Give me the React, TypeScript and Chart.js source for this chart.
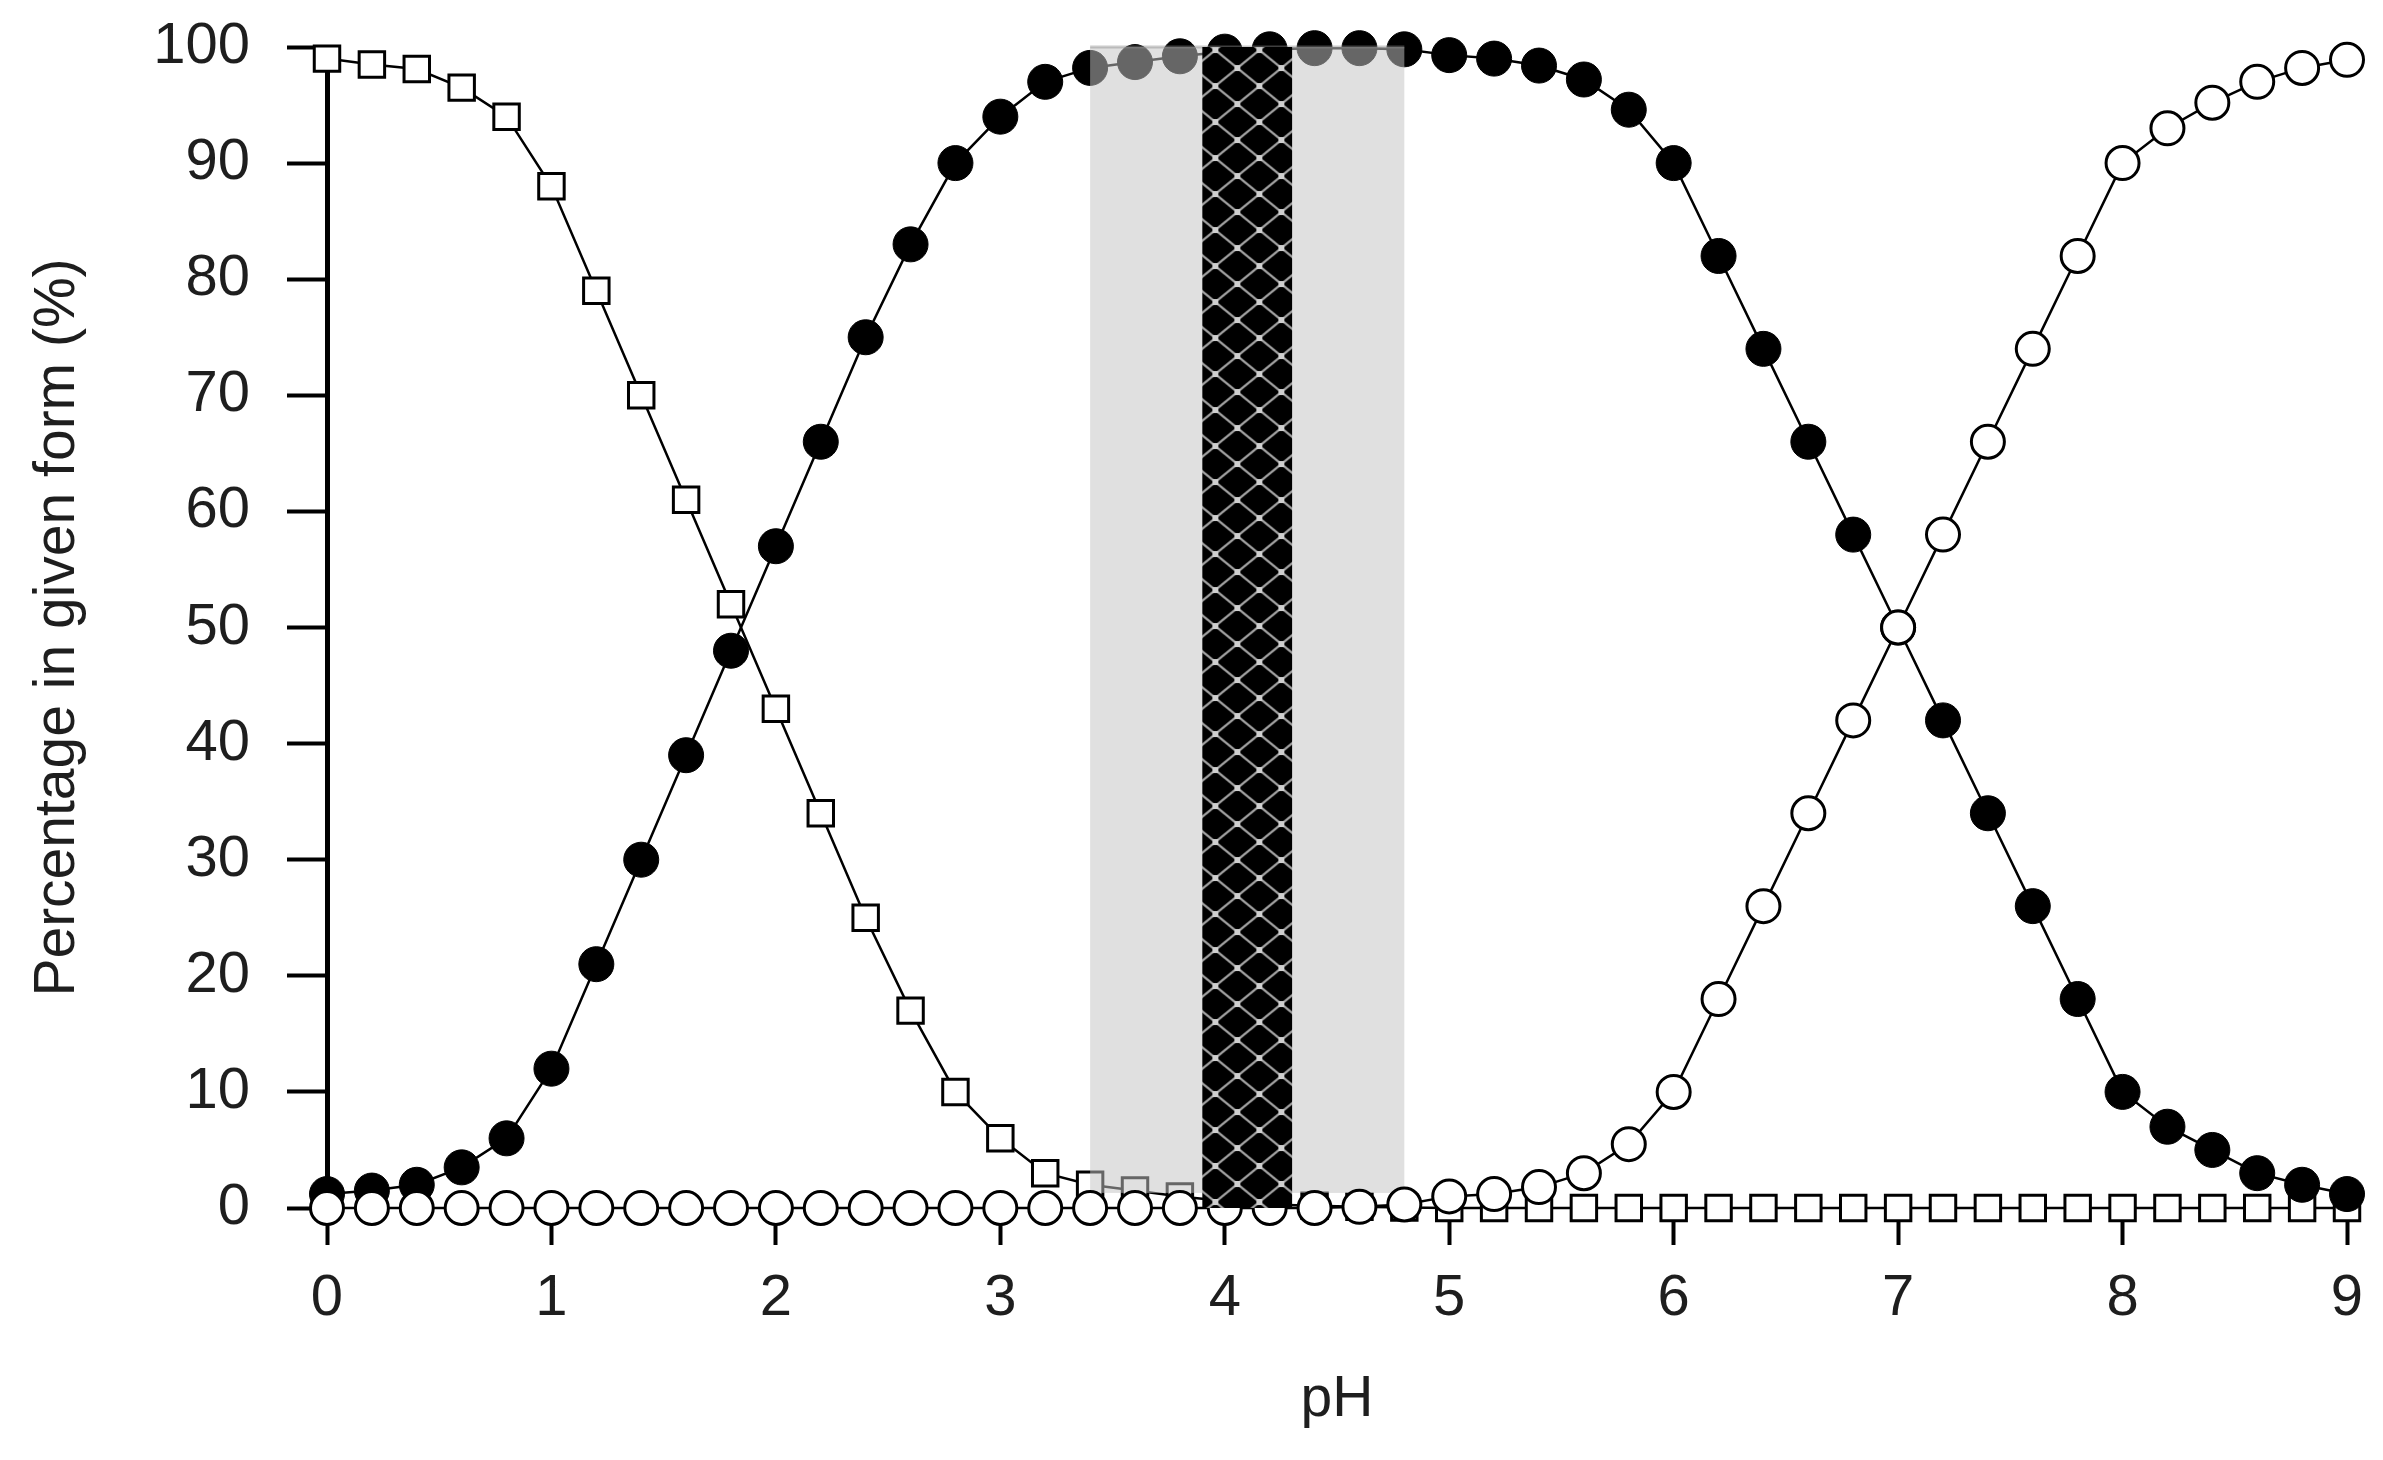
import React, { useEffect, useRef } from 'react';
import { Chart, registerables } from 'chart.js';

Chart.register(...registerables);

// pH values (x categories)
const pHValues = [
  0, 0.2, 0.4, 0.6, 0.8, 1.0, 1.2, 1.4, 1.6, 1.8,
  2.0, 2.2, 2.4, 2.6, 2.8, 3.0, 3.2, 3.4, 3.6, 3.8,
  4.0, 4.2, 4.4, 4.6, 4.8, 5.0, 5.2, 5.4, 5.6, 5.8,
  6.0, 6.2, 6.4, 6.6, 6.8, 7.0, 7.2, 7.4, 7.6, 7.8,
  8.0, 8.2, 8.4, 8.6, 8.8, 9.0,
];

// open squares (fully protonated form)
const squareValues = [
  99, 98.5, 98.1, 96.5, 94, 88, 79, 70, 61, 52,
  43, 34, 25, 17, 10, 6, 3, 2, 1.5, 1,
  0.6, 0.3, 0.2, 0.1, 0.05, 0, 0, 0, 0, 0,
  0, 0, 0, 0, 0, 0, 0, 0, 0, 0,
  0, 0, 0, 0, 0, 0,
];

// filled circles (intermediate form)
const filledValues = [
  1.2, 1.5, 2, 3.5, 6, 12, 21, 30, 39, 48,
  57, 66, 75, 83, 90, 94, 97, 98.2, 98.7, 99.2,
  99.6, 99.8, 99.9, 99.9, 99.8, 99.3, 99.0, 98.4, 97.2, 94.6,
  90, 82, 74, 66, 58, 50, 42, 34, 26, 18,
  10, 7, 5, 3, 2, 1.2,
];

// open circles (deprotonated form)
const openValues = [
  0, 0, 0, 0, 0, 0, 0, 0, 0, 0,
  0, 0, 0, 0, 0, 0, 0, 0, 0, 0,
  0, 0, 0, 0.1, 0.3, 1.0, 1.2, 1.8, 3.0, 5.5,
  10, 18, 26, 34, 42, 50, 58, 66, 74, 82,
  90, 93, 95.2, 97, 98.2, 98.9,
];

const xTickValues = [0, 1, 2, 3, 4, 5, 6, 7, 8, 9];
const yTickValues = [0, 10, 20, 30, 40, 50, 60, 70, 80, 90, 100];

// shaded regions: [xStart, xEnd], [yStart, yEnd]
const lightBandX = [3.4, 4.8];
const lightBandY = [1.3, 100];
const hatchBandX = [3.9, 4.3];
const hatchBandY = [0, 100];

const FONT = '"Liberation Sans", Arial, Helvetica, sans-serif';
const TEXT = '#1e1e1e';

function toPoints(values: number[]) {
  return pHValues.map((x, i) => ({ x, y: values[i] }));
}

function makeHatchPattern(ctx: CanvasRenderingContext2D) {
  const w = 44;
  const h = 36;
  const c = document.createElement('canvas');
  c.width = w;
  c.height = h;
  const g = c.getContext('2d') as CanvasRenderingContext2D;
  g.fillStyle = '#000';
  g.fillRect(0, 0, w, h);
  g.strokeStyle = '#a2a2a2';
  g.lineWidth = 2.2;
  g.beginPath();
  g.moveTo(0, 0);
  g.lineTo(w, h);
  g.moveTo(w, 0);
  g.lineTo(0, h);
  g.stroke();
  g.fillStyle = '#cfcfcf';
  const d = 3;
  const pts = [[0, 0], [w, 0], [0, h], [w, h], [w / 2, h / 2]];
  pts.forEach(([px, py]) => g.fillRect(px - d, py - d, 2 * d, 2 * d));
  return ctx.createPattern(c, 'repeat') as CanvasPattern;
}

const bandsPlugin = {
  id: 'bands',
  beforeDatasetDraw(chart: any, args: any) {
    if (args.index !== 2) return;
    const { ctx, scales } = chart;
    const x1 = scales.x.getPixelForValue(lightBandX[0]);
    const x2 = scales.x.getPixelForValue(lightBandX[1]);
    const y1 = scales.y.getPixelForValue(lightBandY[1]);
    const y2 = scales.y.getPixelForValue(lightBandY[0]);
    ctx.save();
    ctx.fillStyle = 'rgba(196,196,196,0.52)';
    ctx.fillRect(x1, y1, x2 - x1, y2 - y1);
    ctx.strokeStyle = 'rgba(140,140,140,0.45)';
    ctx.lineWidth = 3;
    ctx.beginPath();
    ctx.moveTo(x1, y1);
    ctx.lineTo(x2, y1);
    ctx.stroke();
    ctx.restore();
  },
  afterDatasetsDraw(chart: any) {
    const { ctx, scales } = chart;
    const x1 = scales.x.getPixelForValue(hatchBandX[0]);
    const x2 = scales.x.getPixelForValue(hatchBandX[1]);
    const y1 = scales.y.getPixelForValue(hatchBandY[1]);
    const y2 = scales.y.getPixelForValue(hatchBandY[0]);
    const pattern = makeHatchPattern(ctx);
    if ((pattern as any).setTransform) {
      pattern.setTransform(new DOMMatrix([1, 0, 0, 1, x1 + 13, y1 + 3]));
    }
    ctx.save();
    ctx.fillStyle = pattern;
    ctx.fillRect(x1, y1, x2 - x1, y2 - y1);
    ctx.restore();
  },
};

export default function App() {
  const canvasRef = useRef<HTMLCanvasElement | null>(null);

  useEffect(() => {
    if (!canvasRef.current) return;
    const chart = new Chart(canvasRef.current, {
      type: 'line',
      data: {
        datasets: [
          {
            label: 'H2A',
            data: toPoints(squareValues),
            order: 3,
            borderColor: '#000',
            borderWidth: 2.5,
            pointStyle: 'rect',
            pointRadius: 18,
            pointBackgroundColor: '#fff',
            pointBorderColor: '#000',
            pointBorderWidth: 3,
            tension: 0,
            fill: false,
            clip: false as any,
          },
          {
            label: 'HA-',
            data: toPoints(filledValues),
            order: 2,
            borderColor: '#000',
            borderWidth: 2.5,
            pointStyle: 'circle',
            pointRadius: 17.5,
            pointBackgroundColor: '#000',
            pointBorderColor: '#000',
            pointBorderWidth: 1,
            tension: 0,
            fill: false,
            clip: false as any,
          },
          {
            label: 'A2-',
            data: toPoints(openValues),
            order: 1,
            borderColor: '#000',
            borderWidth: 2.5,
            pointStyle: 'circle',
            pointRadius: 16.5,
            pointBackgroundColor: '#fff',
            pointBorderColor: '#000',
            pointBorderWidth: 3,
            tension: 0,
            fill: false,
            clip: false as any,
          },
        ],
      },
      options: {
        responsive: false,
        animation: false,
        devicePixelRatio: 1,
        layout: { padding: { left: 0, right: 36, top: 47, bottom: 0 } },
        plugins: {
          legend: { display: false },
          tooltip: { enabled: false },
        },
        scales: {
          x: {
            type: 'linear',
            min: 0,
            max: 9,
            afterBuildTicks: (s: any) => {
              s.ticks = xTickValues.map((v) => ({ value: v }));
            },
            afterFit: (s: any) => {
              s.height = 252;
              s.paddingLeft = 0;
              s.paddingRight = 0;
            },
            ticks: {
              font: { family: FONT, size: 58 },
              color: TEXT,
              padding: 19,
              maxRotation: 0,
              autoSkip: false,
            },
            grid: {
              display: true,
              drawOnChartArea: false,
              drawTicks: true,
              tickLength: 37,
              tickWidth: 4,
              tickColor: '#000',
            },
            border: { display: false },
            title: {
              display: true,
              text: 'pH',
              font: { family: FONT, size: 57 },
              color: TEXT,
              padding: { top: 0, bottom: 26 },
            },
          },
          y: {
            type: 'linear',
            min: 0,
            max: 100,
            afterBuildTicks: (s: any) => {
              s.ticks = yTickValues.map((v) => ({ value: v }));
            },
            afterFit: (s: any) => {
              s.width = 327;
              s.paddingTop = 0;
              s.paddingBottom = 0;
            },
            ticks: {
              font: { family: FONT, size: 58 },
              color: TEXT,
              padding: 37,
              autoSkip: false,
            },
            grid: {
              display: true,
              drawOnChartArea: false,
              drawTicks: true,
              tickLength: 40,
              tickWidth: 4,
              tickColor: '#000',
            },
            border: { display: true, width: 5, color: '#000' },
            title: {
              display: true,
              text: 'Percentage in given form (%)',
              font: { family: FONT, size: 57 },
              color: TEXT,
              padding: { top: 24, bottom: 0 },
            },
          },
        },
      },
      plugins: [bandsPlugin],
    });
    return () => chart.destroy();
  }, []);

  return (
    <div
      style={{
        position: 'absolute',
        left: 0,
        top: 0,
        width: 2383,
        height: 1460,
        background: '#fff',
      }}
    >
      <canvas
        ref={canvasRef}
        width={2383}
        height={1460}
        style={{ width: 2383, height: 1460, display: 'block' }}
      />
    </div>
  );
}
